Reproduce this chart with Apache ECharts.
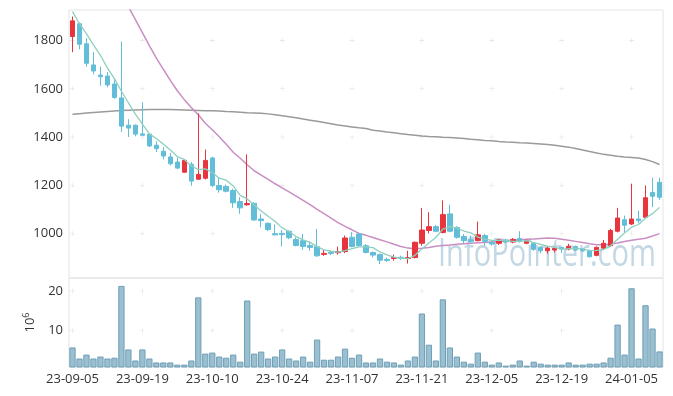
<!DOCTYPE html>
<html><head><meta charset="utf-8">
<script src="https://cdn.jsdelivr.net/npm/echarts@6/dist/echarts.min.js"></script>
<style>html,body{margin:0;padding:0;background:#fff}#c{width:673px;height:396px}</style>
</head><body><div id="c"></div>
<script>
const dates = ['23-09-05','23-09-06','23-09-07','23-09-08','23-09-11','23-09-12','23-09-13','23-09-14','23-09-15','23-09-18',
'23-09-19','23-09-20','23-09-21','23-09-22','23-09-25','23-09-26','23-09-27','23-10-04','23-10-05','23-10-06',
'23-10-10','23-10-11','23-10-12','23-10-13','23-10-16','23-10-17','23-10-18','23-10-19','23-10-20','23-10-23',
'23-10-24','23-10-25','23-10-26','23-10-27','23-10-30','23-10-31','23-11-01','23-11-02','23-11-03','23-11-06',
'23-11-07','23-11-08','23-11-09','23-11-10','23-11-13','23-11-14','23-11-15','23-11-16','23-11-17','23-11-20',
'23-11-21','23-11-22','23-11-23','23-11-24','23-11-27','23-11-28','23-11-29','23-11-30','23-12-01','23-12-04',
'23-12-05','23-12-06','23-12-07','23-12-08','23-12-11','23-12-12','23-12-13','23-12-14','23-12-15','23-12-18',
'23-12-19','23-12-20','23-12-21','23-12-22','23-12-26','23-12-27','23-12-28','24-01-02','24-01-03','24-01-04',
'24-01-05','24-01-08','24-01-09','24-01-10','24-01-11'];
const openP = [1817,1870,1787,1699,1657,1653,1620,1562,1449,1449,
1413,1412,1366,1341,1317,1296,1254,1287,1225,1229,
1313,1199,1195,1178,1132,1119,1125,1060,1042,999,
1000,1009,975,970,950,945,913,921,920,925,
984,998,949,921,912,892,896,901,896,900,
959,1012,1028,1004,1081,1025,987,974,970,991,
963,959,973,964,979,959,959,942,928,931,
942,935,945,935,928,909,939,949,1009,1057,
1039,1060,1067,1170,1212];
const closeP = [1882,1785,1706,1674,1650,1616,1564,1445,1437,1412,
1407,1363,1352,1321,1289,1271,1303,1217,1245,1303,
1199,1181,1175,1127,1106,1124,1056,1053,1016,994,
995,982,950,946,942,907,917,917,925,981,
946,949,921,910,889,888,900,896,900,963,
1014,1028,1009,1078,1009,984,970,967,994,967,
956,973,965,975,966,970,934,928,939,938,
935,946,931,928,903,942,959,1012,1064,1034,
1060,1053,1148,1154,1150];
const lowP = [1752,1764,1692,1660,1613,1606,1559,1421,1400,1403,
1405,1359,1338,1307,1282,1266,1252,1198,1222,1224,
1192,1169,1170,1106,1081,1114,1052,1025,1010,992,
946,976,946,932,928,903,907,910,912,918,
942,945,917,900,873,882,887,890,875,896,
949,1000,1005,1000,1005,979,959,956,967,949,
949,952,960,959,962,955,928,917,916,921,
919,930,927,924,900,905,935,945,1004,1005,
1035,1042,1062,1109,1139];
const highP = [1900,1875,1810,1752,1692,1670,1644,1796,1474,1452,
1544,1415,1382,1359,1334,1314,1306,1296,1498,1348,
1318,1231,1202,1185,1150,1328,1130,1081,1045,1037,
1014,1012,984,998,967,1019,935,930,945,991,
1005,1003,956,925,917,900,912,908,928,967,
1106,1088,1035,1137,1119,1030,998,991,1049,998,
973,977,978,981,1009,975,962,945,945,945,
945,957,950,940,933,946,973,1019,1106,1074,
1206,1095,1199,1231,1231];
const volume = [5.7,2.9,3.9,2.9,3.4,2.9,3.1,21.3,5.2,2.4,
5.2,2.9,1.9,1.9,1.9,1.35,1.35,2.4,18.4,4.15,
4.4,3.4,3.1,3.9,2.1,17.6,4.15,4.65,2.9,3.4,
5.2,2.9,2.4,3.4,2.1,7.7,2.6,2.6,3.4,5.4,
3.1,3.9,1.9,1.9,2.9,2.1,1.9,1.35,2.4,3.4,
14.3,6.4,2.4,17.9,5.7,3.4,2.1,1.6,4.4,2.1,
1.35,1.9,1.1,1.35,2.4,1.1,2.1,1.6,1.35,1.35,
1.35,1.9,1.35,1.35,1.6,1.6,1.9,3.1,11.5,3.9,
20.7,2.9,16.4,10.5,4.7];
const ma5 = [1920,1870,1828,1782,1739,1686,1642,1590,1542,1495,
1453,1413,1394,1371,1346,1319,1307,1280,1265,1268,
1253,1229,1221,1197,1158,1143,1118,1093,1071,1049,
1023,1008,987,973,963,945,932,926,922,929,
937,944,944,941,923,911,902,897,895,909,
935,960,983,1018,1028,1022,1010,1002,985,976,
971,971,971,967,967,970,962,955,947,942,
935,937,938,936,929,930,933,949,976,1002,
1026,1037,1064,1082,1108];
const ma20 = [2290,2250,2205,2160,2115,2070,2030,1985,1941,1887,
1833,1779,1727,1681,1635,1592,1555,1522,1492,1457,
1430,1401,1370,1337,1312,1285,1260,1242,1224,1206,
1189,1172,1155,1137,1119,1100,1082,1063,1045,1029,
1015,1000,992,983,974,965,955,946,939,936,
938,942,947,950,952,955,957,959,961,962,
964,966,970,972,974,976,977,979,981,980,
976,972,967,962,957,953,953,956,960,966,
972,976,980,989,999];
const ma120 = [1494,1497,1500,1502,1504,1506,1508,1510,1511,1512,
1513,1514,1514,1514,1514,1513,1512,1511,1510,1509,
1509,1508,1506,1505,1503,1501,1500,1499,1496,1492,
1488,1484,1480,1475,1470,1465,1460,1455,1450,1446,
1442,1438,1435,1428,1425,1421,1418,1414,1410,1407,
1404,1402,1401,1399,1398,1396,1394,1391,1389,1386,
1384,1381,1379,1378,1376,1375,1373,1371,1369,1366,
1362,1358,1352,1346,1340,1334,1328,1324,1320,1317,
1315,1313,1307,1298,1286];
const priceTicks = [1000,1200,1400,1600,1800];
const volumeTicks = [10,20];
const labelEvery = 10;

const FONT = 'Open Sans';
const candleData = openP.map((o,i)=>[o, closeP[i], lowP[i], highP[i]]);
const tickIdx = dates.map((d,i)=>i).filter(i=>i%labelEvery===0);
const crossPrice = [], crossVol = [];
tickIdx.forEach(i=>{ priceTicks.forEach(v=>crossPrice.push([i,v])); volumeTicks.forEach(v=>crossVol.push([i,v])); });
const plusPath = 'path://M4,0h1v9h-1z M0,4h9v1h-9z';

const chart = echarts.init(document.getElementById('c'), null, {renderer:'canvas'});
chart.setOption({
  animation:false,
  backgroundColor:'#fff',
  textStyle:{fontFamily:FONT},
  grid:[
    {left:69, right:10, top:10, height:268, show:true, borderColor:'#e4e4e4', borderWidth:1, backgroundColor:'transparent'},
    {left:69, right:10, top:278, bottom:29, show:true, borderColor:'#e4e4e4', borderWidth:1, backgroundColor:'transparent'}
  ],
  xAxis:[
    {type:'category', gridIndex:0, data:dates, boundaryGap:true, axisLine:{show:false}, axisTick:{show:false}, axisLabel:{show:false}, splitLine:{show:false}},
    {type:'category', gridIndex:1, data:dates, boundaryGap:true, axisLine:{show:false}, axisTick:{show:false},
     axisLabel:{show:true, interval:labelEvery-1, color:'#333', fontSize:13, fontFamily:FONT, margin:6}, splitLine:{show:false}}
  ],
  yAxis:[
    {type:'value', gridIndex:0, min:815, max:1927, axisLine:{show:false}, axisTick:{show:false}, splitLine:{show:false},
     axisLabel:{show:true, customValues:priceTicks, formatter:v=>String(v), color:'#333', fontSize:13, fontFamily:FONT, margin:6}},
    {type:'value', gridIndex:1, min:0.75, max:23.3, axisLine:{show:false}, axisTick:{show:false}, splitLine:{show:false},
     axisLabel:{show:true, customValues:volumeTicks, formatter:v=>String(v), color:'#333', fontSize:13, fontFamily:FONT, margin:6},
     name:'{a|10}{b|6}', nameLocation:'middle', nameRotate:90, nameGap:30,
     nameTextStyle:{rich:{a:{fontSize:13, color:'#333', fontFamily:FONT, lineHeight:16}, b:{fontSize:9, color:'#333', fontFamily:FONT, verticalAlign:'top', lineHeight:16, padding:[0,0,6,0]}}}}
  ],
  graphic:[{type:'text', z:0, silent:true, x:438, y:255, scaleX:0.765, scaleY:1,
    style:{x:0, y:0, text:'InfoPointer.com', fontSize:38, fontFamily:FONT,
      fill:'rgba(170,200,216,0.7)', align:'left', verticalAlign:'middle'}}],
  series:[
    {type:'scatter', xAxisIndex:0, yAxisIndex:0, data:crossPrice, symbol:plusPath, symbolSize:5, itemStyle:{color:'#d9d9d9'}, silent:true, z:1},
    {type:'scatter', xAxisIndex:1, yAxisIndex:1, data:crossVol, symbol:plusPath, symbolSize:5, itemStyle:{color:'#d9d9d9'}, silent:true, z:1},
    {type:'line', name:'MA120', xAxisIndex:0, yAxisIndex:0, data:ma120, showSymbol:false, lineStyle:{color:'#9a9a9a', width:1.5}, z:3, silent:true},
    {type:'line', name:'MA20', xAxisIndex:0, yAxisIndex:0, data:ma20, showSymbol:false, lineStyle:{color:'#c98ec4', width:1.5}, z:3, silent:true, clip:true},
    {type:'candlestick', xAxisIndex:0, yAxisIndex:0, data:candleData, barWidth:5,
     itemStyle:{color:'#e8353d', color0:'#62bed8', borderColor:'#e8353d', borderColor0:'#62bed8', borderWidth:1}, z:4},
    {type:'line', name:'MA5', xAxisIndex:0, yAxisIndex:0, data:ma5, showSymbol:false, lineStyle:{color:'#8ed0c0', width:1.3}, z:5, silent:true},
    {type:'bar', xAxisIndex:1, yAxisIndex:1, data:volume, barWidth:'90%', barGap:'0%',
     itemStyle:{color:'rgba(135,180,200,0.85)', borderColor:'#6f9fb5', borderWidth:1}, z:3}
  ]
});
</script>
</body></html>
